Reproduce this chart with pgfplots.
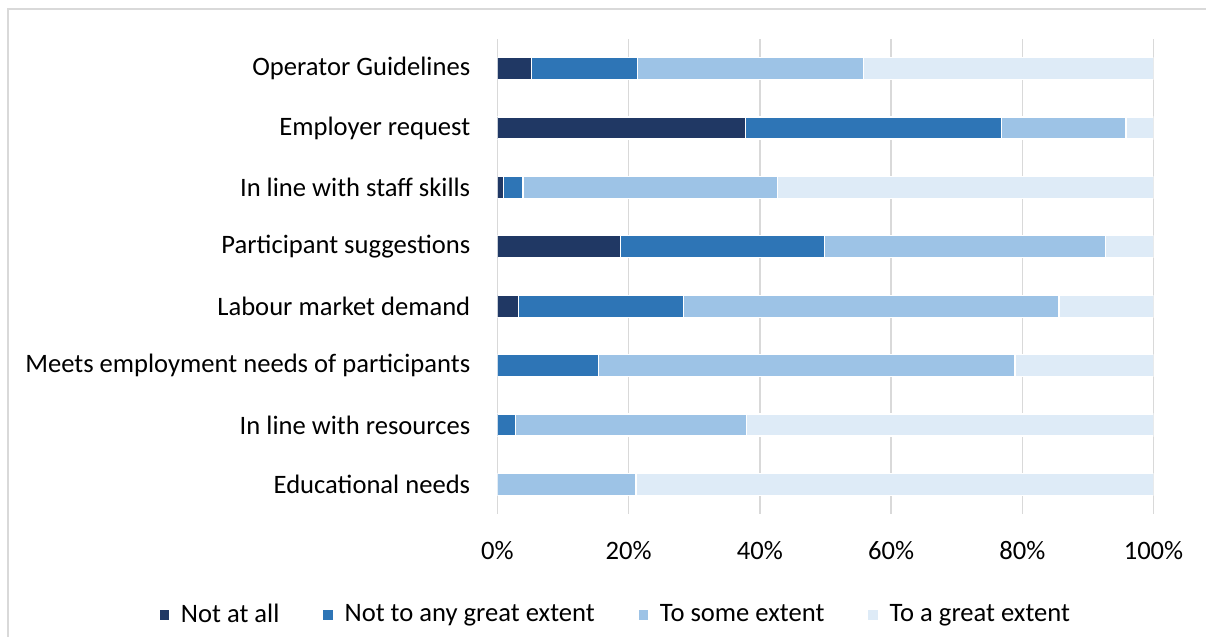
\documentclass[border=0pt]{standalone}
\usepackage{pgfplots}
\pgfplotsset{compat=1.18}
\usepackage{fontspec}
\setmainfont{Carlito}

\definecolor{gridgray}{HTML}{D9D9D9}
\definecolor{sNone}{HTML}{203864}
\definecolor{sLow}{HTML}{2E75B6}
\definecolor{sSome}{HTML}{9DC3E6}
\definecolor{sGreat}{HTML}{DEEBF7}

\begin{document}
\fontsize{13.3}{15}\selectfont
\begin{tikzpicture}
\path[use as bounding box] (-248.75pt,-61.5pt) rectangle (354.25pt,257pt);
\draw[gridgray, line width=0.75pt] (-244.75pt,-62pt) -- (-244.75pt,252.5pt) -- (356pt,252.5pt);
\begin{axis}[
    at={(0,0)}, anchor=south west,
    scale only axis, width=328pt, height=237.5pt,
    xbar stacked, bar width=11pt,
    xmin=0, xmax=100, ymin=-0.5, ymax=7.5,
    ytick={0,...,7},
    yticklabels={Educational needs, In line with resources,
        Meets employment needs of participants, Labour market demand,
        Participant suggestions, In line with staff skills,
        Employer request, Operator Guidelines},
    xtick={0,20,...,100},
    xticklabels={0\%,20\%,40\%,60\%,80\%,100\%},
    axis line style={draw=none},
    major tick length=0pt,
    xmajorgrids, grid style={gridgray, line width=0.75pt},
    xticklabel style={yshift=-9pt},
    yticklabel style={xshift=-9pt},
    every axis plot/.append style={draw=white, line width=0.6pt},
    legend columns=4,
    legend style={at={(0.182,-0.2126)}, anchor=center, draw=none,
        fill=none, inner sep=0pt,
        /tikz/every odd column/.append style={column sep=4pt},
        /tikz/every even column/.append style={column sep=20pt}},
    legend cell align=left,
    legend image code/.code={\fill[#1, draw=none] (0pt,-2.4pt) rectangle (4.6pt,2.4pt);},
]
% values in % of responses, top row = Operator Guidelines (y=7)
\addplot[fill=sNone] coordinates {
    (0,0) (0,1) (0,2) (3.2,3) (18.7,4) (0.9,5) (37.8,6) (5.2,7)};
\addlegendentry{Not at all}
\addplot[fill=sLow] coordinates {
    (0,0) (2.8,1) (15.4,2) (25.2,3) (31.2,4) (3.0,5) (39.0,6) (16.1,7)};
\addlegendentry{Not to any great extent}
\addplot[fill=sSome] coordinates {
    (21.1,0) (35.2,1) (63.5,2) (57.2,3) (42.8,4) (38.8,5) (19.0,6) (34.5,7)};
\addlegendentry{To some extent}
\addplot[fill=sGreat] coordinates {
    (78.9,0) (62.0,1) (21.1,2) (14.4,3) (7.3,4) (57.3,5) (4.2,6) (44.2,7)};
\addlegendentry{To a great extent}
\end{axis}
\end{tikzpicture}
\end{document}
